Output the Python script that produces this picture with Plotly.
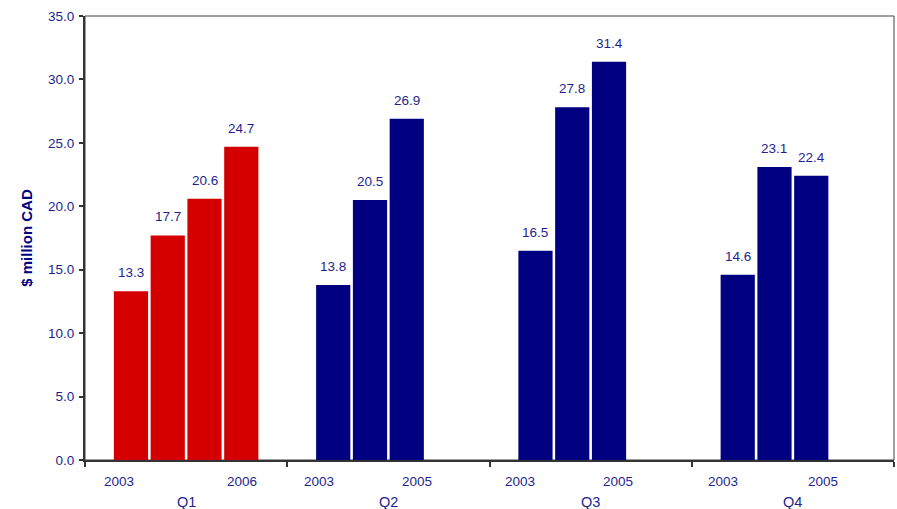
import plotly.graph_objects as go

# Quarterly revenue, $ million CAD
quarters = ["Q1", "Q2", "Q3", "Q4"]
years = ["2003", "2004", "2005", "2006"]
v2003 = [13.3, 13.8, 16.5, 14.6]
v2004 = [17.7, 20.5, 27.8, 23.1]
v2005 = [20.6, 26.9, 31.4, 22.4]
v2006 = [24.7, None, None, None]
series = [v2003, v2004, v2005, v2006]

# year captions shown under each quarter: (quarter index, offset within group 0..1, text)
year_captions = [
    (0, 0.17, "2003"), (0, 0.776, "2006"),
    (1, 0.155, "2003"), (1, 0.64, "2005"),
    (2, 0.152, "2003"), (2, 0.635, "2005"),
    (3, 0.155, "2003"), (3, 0.65, "2005"),
]

RED = "#D40000"
NAVY = "#000080"
TEXT = "#1F1F8F"
FONT = "Liberation Sans, Arial, sans-serif"

BARGAP = 1.5 / 5.5
n_series = len(series)
x_idx = list(range(len(quarters)))

fig = go.Figure()
for yr, vals in zip(years, series):
    colors = [RED if q == 0 else NAVY for q in x_idx]
    fig.add_trace(go.Bar(
        x=x_idx, y=vals, name=yr,
        marker=dict(color=colors, line=dict(width=0)),
        showlegend=False, hoverinfo="skip",
    ))

# value labels above each bar
slot = (1 - BARGAP) / n_series
annotations = []
for s, vals in enumerate(series):
    for q, v in enumerate(vals):
        if v is None:
            continue
        annotations.append(dict(
            x=q + (s - (n_series - 1) / 2) * slot, y=v,
            xref="x", yref="y", text=f"{v:.1f}", showarrow=False,
            yanchor="bottom", yshift=9,
            font=dict(family=FONT, size=13.5, color=TEXT),
        ))

for q, off, txt in year_captions:
    annotations.append(dict(
        x=q - 0.5 + off, y=0, xref="x", yref="y", text=txt, showarrow=False,
        yanchor="top", yshift=-12,
        font=dict(family=FONT, size=13.5, color=TEXT),
    ))

for q, name in enumerate(quarters):
    annotations.append(dict(
        x=q, y=0, xref="x", yref="y", text=name, showarrow=False,
        yanchor="top", yshift=-32,
        font=dict(family=FONT, size=14.5, color=TEXT),
    ))

fig.update_layout(
    width=897, height=509,
    margin=dict(l=85, r=3, t=16, b=49),
    paper_bgcolor="white", plot_bgcolor="white",
    barmode="group", bargap=BARGAP, bargroupgap=0.07,
    font=dict(family=FONT, color=TEXT),
    annotations=annotations,
    shapes=[dict(type="rect", xref="paper", yref="paper", x0=0, y0=0, x1=1, y1=1,
                 line=dict(color="#404040", width=1), layer="below")],
)

fig.update_xaxes(
    range=[-0.5, len(quarters) - 0.5],
    tickmode="array",
    tickvals=[q - 0.5 for q in range(len(quarters) + 1)],
    ticktext=[""] * (len(quarters) + 1),
    ticks="outside", ticklen=5, tickcolor="#333333", tickwidth=1.5,
    showline=True, linecolor="#333333", linewidth=2,
    showgrid=False, zeroline=False,
)

fig.update_yaxes(
    range=[0, 35], tick0=0, dtick=5, tickformat=".1f",
    ticks="outside", ticklen=4, tickcolor="#333333", tickwidth=1.5,
    showline=True, linecolor="#333333", linewidth=2,
    showgrid=False, zeroline=False, ticklabelstandoff=2,
    tickfont=dict(family=FONT, size=13.5, color=TEXT),
    title=dict(text="<b>$ million CAD</b>", standoff=12,
               font=dict(family=FONT, size=15, color=NAVY)),
)

fig.write_html("out.html")
